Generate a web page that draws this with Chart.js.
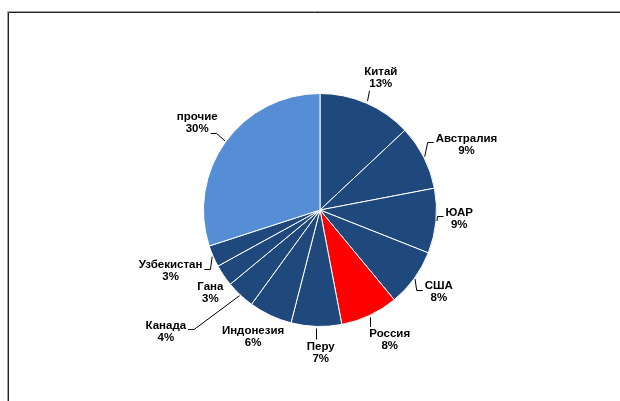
<!DOCTYPE html>
<html>
<head>
<meta charset="utf-8">
<script src="https://cdn.jsdelivr.net/npm/chart.js@4/dist/chart.umd.min.js"></script>
<style>
  html, body { margin: 0; padding: 0; background: #fff; }
  #wrap { position: relative; width: 620px; height: 401px; }
</style>
</head>
<body>
<div id="wrap"><canvas id="pieChart" width="620" height="401"></canvas></div>
<script>
// производство по странам, доля в %
const countries = ['Китай', 'Австралия', 'ЮАР', 'США', 'Россия', 'Перу', 'Индонезия', 'Канада', 'Гана', 'Узбекистан', 'прочие'];
const shares = [13, 9, 9, 8, 8, 7, 6, 4, 3, 3, 30];

// where each label sits: angle tweak (deg), gap beyond the pie edge (px), leader style
const labelPlacement = [
	{ turn: 1.3, gap: 29, leader: 'vertical' },
	{ turn: 2.9, gap: 44, leader: 'side', line: 0 },
	{ turn: -1.9, gap: 23, leader: 'side', line: 0 },
	{ turn: -1.3, gap: 28, leader: 'side', line: 0 },
	{ turn: -3, gap: 31, leader: 'vertical' },
	{ turn: -2.1, gap: 26, leader: 'vertical' },
	{ turn: 2.6, gap: 27, leader: null },
	{ turn: 8.5, gap: 80, leader: 'side', line: 0 },
	{ turn: -2.9, gap: 21, leader: null },
	{ turn: 1.1, gap: 45, leader: 'side', line: 0 },
	{ turn: -0.7, gap: 34, leader: 'side', line: 1 },
];

const DARK = '#1f497d';
const sliceColors = countries.map(name => {
	if (name === 'Россия') return '#ff0000';
	if (name === 'прочие') return '#558ed5';
	return DARK;
});

const FONT = 'bold 11.5px "Liberation Sans", Arial, sans-serif';
const LINE_GAP = 12;

const framePlugin = {
	id: 'frame',
	beforeDraw(chart) {
		const { ctx, width, height } = chart;
		ctx.save();
		ctx.lineWidth = 1;
		ctx.strokeStyle = '#a0a0a0';
		ctx.beginPath();
		ctx.moveTo(7.5, height);
		ctx.lineTo(7.5, 11.5);
		ctx.lineTo(width, 11.5);
		ctx.stroke();
		ctx.strokeStyle = '#222';
		ctx.beginPath();
		ctx.moveTo(8.5, height);
		ctx.lineTo(8.5, 12.5);
		ctx.lineTo(width, 12.5);
		ctx.stroke();
		ctx.restore();
	},
};

const labelPlugin = {
	id: 'sliceLabels',
	afterDatasetsDraw(chart) {
		const { ctx } = chart;
		const meta = chart.getDatasetMeta(0);
		ctx.save();
		ctx.font = FONT;
		ctx.fillStyle = '#000';
		ctx.strokeStyle = '#000';
		ctx.lineWidth = 1;
		ctx.textAlign = 'center';
		ctx.textBaseline = 'middle';

		meta.data.forEach((arc, i) => {
			const p = labelPlacement[i];
			const R = arc.outerRadius;
			const mid = (arc.startAngle + arc.endAngle) / 2;
			const a = mid + p.turn * Math.PI / 180;
			const cx = arc.x + Math.cos(a) * (R + p.gap);
			const cy = arc.y + Math.sin(a) * (R + p.gap);
			const lines = [countries[i], shares[i] + '%'];
			const ys = [cy - LINE_GAP / 2, cy + LINE_GAP / 2];
			lines.forEach((t, k) => ctx.fillText(t, cx, ys[k]));

			if (!p.leader) return;
			const ex = arc.x + Math.cos(mid) * (R + 1);
			const ey = arc.y + Math.sin(mid) * (R + 1);
			ctx.beginPath();
			if (p.leader === 'vertical') {
				const up = ey < arc.y;
				const endY = up ? ys[1] + 7 : ys[0] - 7;
				ctx.moveTo(Math.round(ex) + 0.5, ey + (up ? -1 : 1));
				ctx.lineTo(Math.round(ex) + 0.5 + (up ? 2 : 0), endY);
			} else {
				const k = p.line;
				const half = ctx.measureText(lines[k]).width / 2;
				const right = cx > arc.x;
				const edge = right ? cx - half : cx + half;
				const dir = right ? -1 : 1;
				const y = Math.round(ys[k] + 3.5) + 0.5;
				ctx.moveTo(ex, ey);
				ctx.lineTo(edge + dir * 8, y);
				ctx.lineTo(edge + dir * 2, y);
			}
			ctx.stroke();
		});
		ctx.restore();
	},
};

new Chart(document.getElementById('pieChart'), {
	type: 'pie',
	data: {
		labels: countries,
		datasets: [
			{
				data: shares,
				backgroundColor: sliceColors,
				borderColor: '#ffffff',
				borderWidth: 1,
			},
		],
	},
	options: {
		responsive: false,
		animation: false,
		layout: { padding: { left: 203, right: 183, top: 93, bottom: 74 } },
		plugins: {
			legend: { display: false },
			tooltip: { enabled: false },
		},
	},
	plugins: [framePlugin, labelPlugin],
});
</script>
</body>
</html>
